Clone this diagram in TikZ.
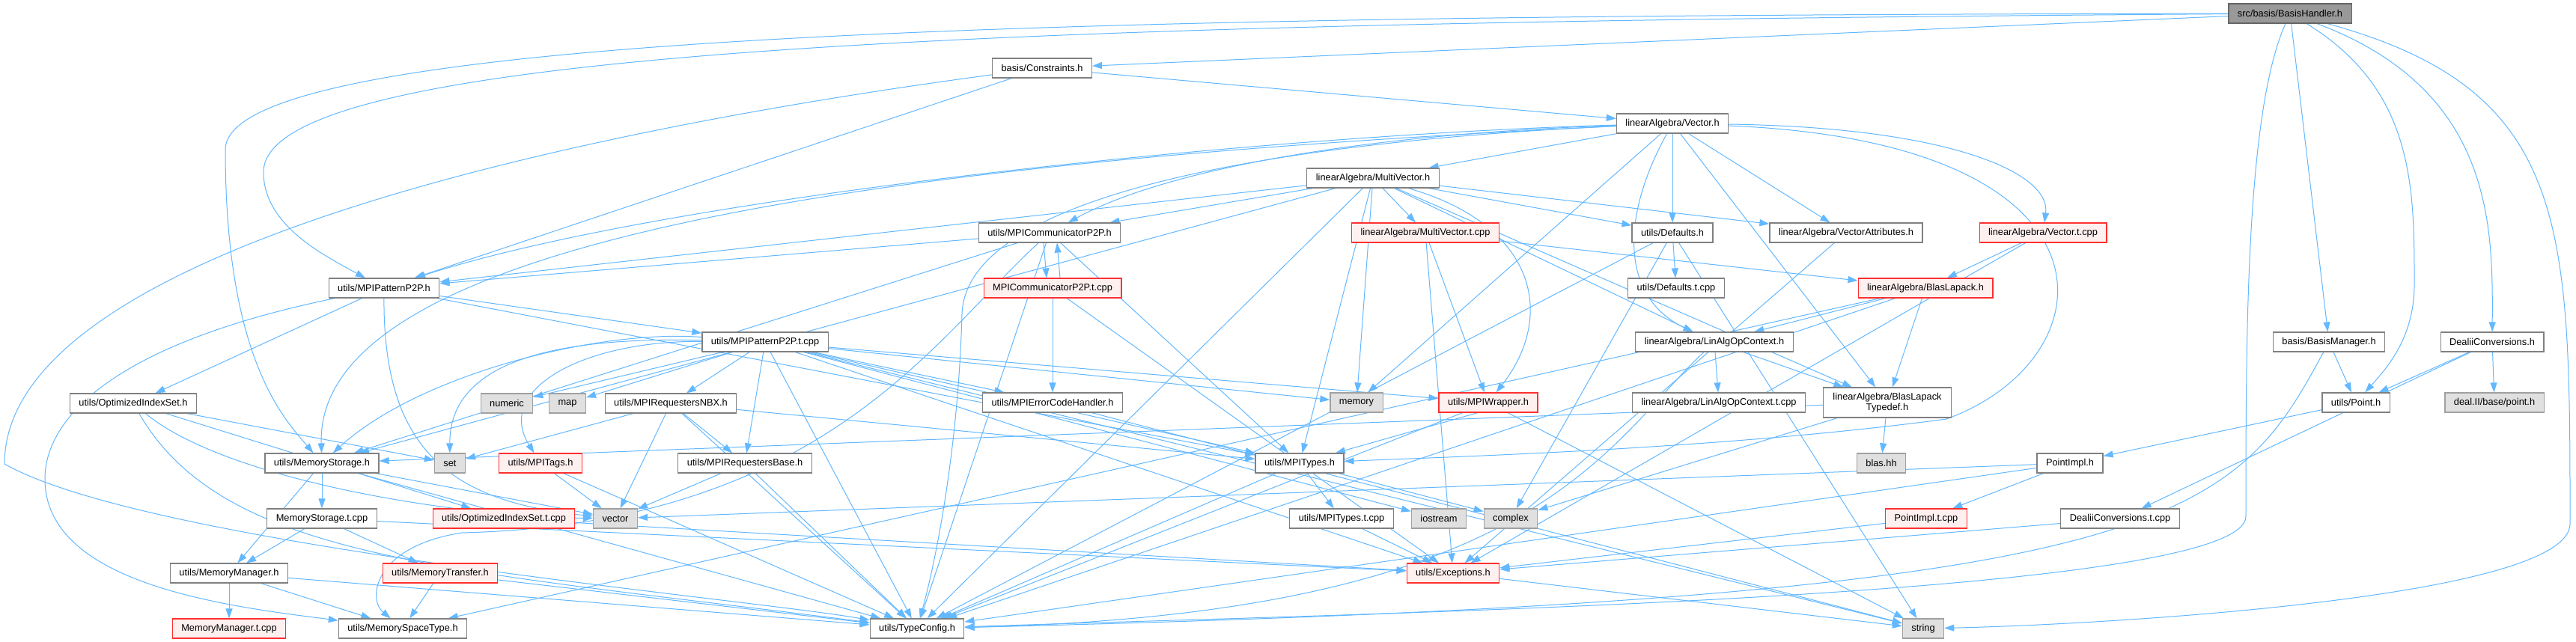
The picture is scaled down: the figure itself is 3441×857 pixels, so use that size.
\documentclass[tikz,border=0pt]{standalone}
\usepackage{fontspec}
\setmainfont{Liberation Sans}
\usetikzlibrary{arrows.meta}
\pgfdeclarelayer{edgelayer}
\pgfdeclarelayer{bglayer}
\pgfsetlayers{bglayer,edgelayer,main}
\definecolor{edgeblue}{HTML}{63B8FF}
\definecolor{nodegray}{HTML}{808080}
\definecolor{redborder}{HTML}{FF3030}
\definecolor{redfill}{HTML}{FFF0F0}
\definecolor{sysfill}{HTML}{E0E0E0}
\definecolor{sysborder}{HTML}{A0A0A0}
\definecolor{rootfill}{HTML}{999999}
\definecolor{rootborder}{HTML}{666666}
\tikzset{
  nb/.style={draw=nodegray, line width=1.2pt, fill=white, minimum height=26pt, inner xsep=12pt, inner ysep=0pt,
    font=\fontsize{12.8}{14.5}\selectfont, text=black},
  rednb/.style={nb, draw=redborder, fill=redfill},
  sysnb/.style={nb, draw=sysborder, fill=sysfill},
  rootnb/.style={nb, draw=rootborder, fill=rootfill},
  edge/.style={draw=edgeblue, line width=1pt, -{Triangle[length=13pt,width=9pt]}}
}
\begin{document}
\begin{tikzpicture}[x=1pt,y=-1pt]
\begin{pgfonlayer}{bglayer}
\fill[white] (0,0) rectangle (3441,857);
\end{pgfonlayer}
\useasboundingbox (0,0) rectangle (3441,857);
% nodes
\node[rootnb] (bh) at (3059,18) {src/basis/BasisHandler.h};
\node[nb] (cons) at (1392,91) {basis/Constraints.h};
\node[nb] (vec) at (2234,165) {linearAlgebra/Vector.h};
\node[nb] (mvec) at (1834,238) {linearAlgebra/MultiVector.h};
\node[nb] (commp2p) at (1402,311) {utils/MPICommunicatorP2P.h};
\node[rednb] (mvectcpp) at (1904,311) {linearAlgebra/MultiVector.t.cpp};
\node[nb] (defaults) at (2234,311) {utils/Defaults.h};
\node[nb] (vecattr) at (2466,311) {linearAlgebra/VectorAttributes.h};
\node[rednb] (vectcpp) at (2729,311) {linearAlgebra/Vector.t.cpp};
\node[nb] (patp2p) at (513,385) {utils/MPIPatternP2P.h};
\node[rednb] (commtcpp) at (1406,385) {MPICommunicatorP2P.t.cpp};
\node[nb] (defaultstcpp) at (2239,385) {utils/Defaults.t.cpp};
\node[rednb] (blaslapack) at (2572,385) {linearAlgebra/BlasLapack.h};
\node[nb] (pattcpp) at (1022,457) {utils/MPIPatternP2P.t.cpp};
\node[nb] (linalgctx) at (2290,457) {linearAlgebra/LinAlgOpContext.h};
\node[nb] (basismgr) at (3111,457) {basis/BasisManager.h};
\node[nb] (dealii) at (3329,457) {DealiiConversions.h};
\node[nb] (optidx) at (178,539) {utils/OptimizedIndexSet.h};
\node[sysnb] (numeric) at (677,539) {numeric};
\node[sysnb] (map) at (758,539) {map};
\node[nb] (nbx) at (896,539) {utils/MPIRequestersNBX.h};
\node[nb] (errhandler) at (1406,538) {utils/MPIErrorCodeHandler.h};
\node[sysnb] (memory) at (1812,538) {memory};
\node[rednb] (mpiwrapper) at (1988,538) {utils/MPIWrapper.h};
\node[nb] (linalgtcpp) at (2296,538) {linearAlgebra/LinAlgOpContext.t.cpp};
\node[nb, minimum height=40pt, minimum width=171pt, align=center] (blastypedef) at (2521,538) {linearAlgebra/BlasLapack\\Typedef.h};
\node[nb] (point) at (3147,538) {utils/Point.h};
\node[sysnb] (dealpoint) at (3332,538) {deal.II/base/point.h};
\node[nb] (memstorage) at (430,619) {utils/MemoryStorage.h};
\node[sysnb] (set) at (601,619) {set};
\node[rednb] (mpitags) at (722,619) {utils/MPITags.h};
\node[nb] (reqbase) at (995,619) {utils/MPIRequestersBase.h};
\node[nb] (mpitypes) at (1736,619) {utils/MPITypes.h};
\node[sysnb] (blashh) at (2513,619) {blas.hh};
\node[nb] (pointimpl) at (2765,619) {PointImpl.h};
\node[nb] (memsttcpp) at (430,693) {MemoryStorage.t.cpp};
\node[rednb] (optidxtcpp) at (673,693) {utils/OptimizedIndexSet.t.cpp};
\node[sysnb] (vector) at (822,693) {vector};
\node[nb] (mpitypestcpp) at (1792,693) {utils/MPITypes.t.cpp};
\node[sysnb] (iostream) at (1922,693) {iostream};
\node[sysnb] (complex) at (2018,693) {complex};
\node[rednb] (pointimpltcpp) at (2573,693) {PointImpl.t.cpp};
\node[nb] (dealiitcpp) at (2832,693) {DealiiConversions.t.cpp};
\node[nb] (memmgr) at (306,766) {utils/MemoryManager.h};
\node[rednb] (memtransfer) at (588,766) {utils/MemoryTransfer.h};
\node[rednb] (exceptions) at (1941,766) {utils/Exceptions.h};
\node[rednb] (memmgrtcpp) at (306,840) {MemoryManager.t.cpp};
\node[nb] (memspace) at (538,840) {utils/MemorySpaceType.h};
\node[nb] (typeconfig) at (1225,840) {utils/TypeConfig.h};
\node[sysnb] (string) at (2569,840) {string};
\begin{pgfonlayer}{edgelayer}
% straight edges
\foreach \a/\b in {
  bh/cons, bh/basismgr,
  cons/vec, cons/patp2p,
  vec/mvec, vec/defaults, vec/vecattr, vec/blastypedef, vec/memory,
  mvec/commp2p, mvec/patp2p, mvec/mvectcpp, mvec/defaults, mvec/vecattr, mvec/linalgctx, mvec/blastypedef,
  mvec/memstorage, mvec/typeconfig, mvec/memory, mvec/mpitypes,
  commp2p/patp2p, commp2p/memstorage, commp2p/typeconfig, commp2p/mpitypes,
  commtcpp/errhandler, commtcpp/exceptions,
  patp2p/pattcpp, patp2p/optidx, patp2p/mpitypes,
  pattcpp/numeric, pattcpp/map, pattcpp/nbx, pattcpp/reqbase, pattcpp/errhandler,
  pattcpp/memory, pattcpp/mpiwrapper, pattcpp/exceptions, pattcpp/mpitypes, pattcpp/typeconfig, pattcpp/string,
  pattcpp/iostream,
  nbx/reqbase, nbx/set, nbx/vector, nbx/mpitypes, nbx/typeconfig,
  reqbase/vector, reqbase/typeconfig,
  mpitags/vector, mpitags/typeconfig,
  optidx/set, optidx/optidxtcpp,
  optidxtcpp/exceptions,
  memstorage/memsttcpp, memstorage/memmgr, memstorage/vector, memstorage/typeconfig,
  memsttcpp/memmgr, memsttcpp/memtransfer, memsttcpp/exceptions,
  memmgr/memmgrtcpp, memmgr/memspace, memmgr/typeconfig,
  memtransfer/memspace, memtransfer/typeconfig,
  errhandler/string,
  mpiwrapper/typeconfig, mpiwrapper/string,
  mpitypes/mpitypestcpp, mpitypes/complex, mpitypes/typeconfig,
  mpitypestcpp/exceptions,
  exceptions/string,
  defaults/defaultstcpp, defaults/typeconfig, defaults/complex, defaults/string,
  vecattr/exceptions,
  vectcpp/blaslapack, vectcpp/exceptions,
  mvectcpp/blaslapack, mvectcpp/exceptions, mvectcpp/mpiwrapper,
  blaslapack/linalgctx, blaslapack/blastypedef, blaslapack/typeconfig, blaslapack/memspace,
  linalgctx/linalgtcpp, linalgctx/blastypedef,
  blastypedef/blashh, blastypedef/memstorage, blastypedef/complex,
  basismgr/point,
  dealii/point, dealii/dealpoint, dealii/dealiitcpp,
  point/pointimpl,
  pointimpl/pointimpltcpp, pointimpl/vector, pointimpl/typeconfig,
  pointimpltcpp/exceptions, dealiitcpp/exceptions}
  \draw[edge] (\a) -- (\b);
% double arrows between MPICommunicatorP2P.h and its .t.cpp
\draw[edge] ([xshift=-8pt]commp2p.south) -- ([xshift=-8pt]commtcpp.north);
\draw[edge] ([xshift=10pt]commtcpp.north) -- ([xshift=10pt]commp2p.south);
\draw[edge] ([xshift=-14pt]mpiwrapper.south) -- (mpitypes);
% curved edges
\draw[edge] (bh) .. controls (1400,30) and (352,60) .. (352,230) .. controls (352,300) and (430,340) .. (patp2p);
\draw[edge] (bh) .. controls (1500,20) and (301,40) .. (301,200) .. controls (301,480) and (380,560) .. (memstorage);
\draw[edge] (cons) .. controls (800,170) and (6,330) .. (6,620) .. controls (200,730) and (1000,800) .. (typeconfig);
\draw[edge] (bh) .. controls (3000,150) and (3000,450) .. (3000,690) .. controls (3000,800) and (1800,820) .. (typeconfig);
\draw[edge] (bh) .. controls (3433,120) and (3433,300) .. (3433,700) .. controls (3433,800) and (2800,835) .. (string);
\draw[edge] (bh) .. controls (3225,120) and (3225,250) .. (3225,380) .. controls (3225,450) and (3190,490) .. (point);
\draw[edge] (bh) .. controls (3330,120) and (3330,300) .. (dealii);
\draw[edge] (vec) .. controls (1300,210) and (420,300) .. (memstorage);
\draw[edge] (vec) .. controls (1700,180) and (900,260) .. (patp2p);
\draw[edge] (vec) .. controls (1800,180) and (1550,230) .. (commp2p);
\draw[edge] (vec) .. controls (1700,190) and (1290,260) .. (1285,420) .. controls (1280,600) and (1250,750) .. (typeconfig);
\draw[edge] (vec) .. controls (2160,300) and (2170,400) .. (linalgctx);
\draw[edge] (vec) .. controls (2600,170) and (2740,230) .. (vectcpp);
\draw[edge] (vec) .. controls (2850,190) and (2820,480) .. (2600,560) .. controls (2300,600) and (1950,610) .. (mpitypes);
\draw[edge] (mvec) .. controls (2050,300) and (2080,420) .. (mpiwrapper);
\draw[edge] (pattcpp) .. controls (800,440) and (560,500) .. (memstorage);
\draw[edge] (pattcpp) .. controls (750,450) and (600,480) .. (set);
\draw[edge] (pattcpp) .. controls (780,455) and (660,520) .. (mpitags);
\draw[edge] (commp2p) .. controls (1250,450) and (1100,700) .. (617,712) .. controls (500,730) and (490,800) .. (memspace);
\draw[edge] (linalgctx) .. controls (2140,600) and (2050,820) .. (typeconfig);
\draw[edge] (basismgr) .. controls (2980,700) and (2900,800) .. (typeconfig);
\draw[edge] (optidx) .. controls (300,750) and (600,760) .. (typeconfig);
\draw[edge] (optidx) .. controls (300,640) and (600,690) .. (vector);
\draw[edge] (patp2p) .. controls (150,460) and (60,560) .. (60,640) .. controls (60,780) and (300,810) .. (memspace);
\draw[edge] (patp2p) .. controls (512,600) and (600,670) .. (vector);
\end{pgfonlayer}
\end{tikzpicture}
\end{document}
